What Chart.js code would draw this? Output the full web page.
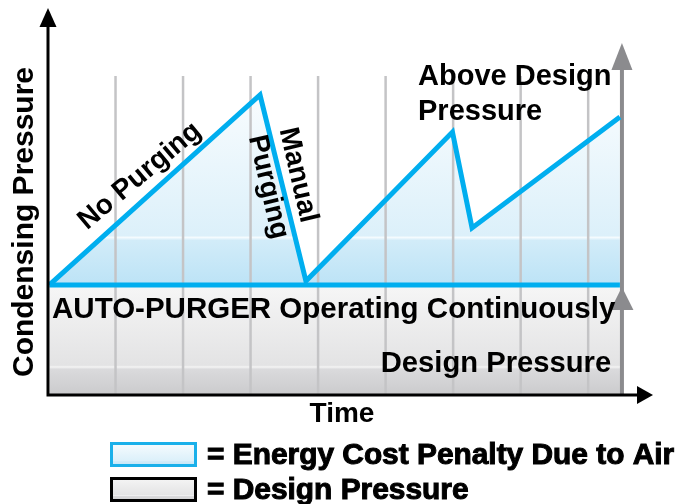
<!DOCTYPE html>
<html lang="en">
<head>
  <meta charset="UTF-8">
  <title>Condensing Pressure – Auto-Purger</title>
  <script src="https://cdn.jsdelivr.net/npm/chart.js"></script>
  <style>
    html, body { margin: 0; padding: 0; background: #fff; }
    #wrap { width: 686px; height: 504px; position: relative; }
  </style>
</head>
<body>
  <div id="wrap"><canvas id="purgeChart"></canvas></div>

  <script>
    // values (time units, pressure above design)
    const penaltyTime     = [0.02, 3.14, 3.82, 5.99, 6.28, 8.47];
    const penaltyPressure = [0,    1.90, 0.04, 1.53, 0.57, 1.68];
    const designTime      = [0.02, 8.5];
    const designPressure  = [0, 0];
    const gridTimes       = [1, 2, 3, 4, 5, 6, 7, 8];
    const gridTop         = 2.09;
    const pressureMin     = -1.1;
    const pressureMax     = 2.77;
    const timeMax         = 8.96;
    const limitTime       = 8.5;
    const limitArrowTop   = 2.42;

    const axisTitleX = 'Time';
    const axisTitleY = 'Condensing Pressure';
    const legendLabels = ['= Energy Cost Penalty Due to Air', '= Design Pressure'];

    const BLUE = '#00aeef';
    const FONT = '"Liberation Sans", Arial, Helvetica, sans-serif';

    const pts = (xs, ys) => xs.map((x, i) => ({ x: x, y: ys[i] }));

    // glossy gradients with the faint light band of the original
    function blueGradient(ctx, y0, y1) {
      const g = ctx.createLinearGradient(0, y0, 0, y1);
      g.addColorStop(0, '#f8fcfe');
      g.addColorStop(0.74, '#dcf0fa');
      g.addColorStop(0.75, '#f4fbfe');
      g.addColorStop(0.765, '#d2ecf9');
      g.addColorStop(1, '#bce3f6');
      return g;
    }
    function grayGradient(ctx, y0, y1) {
      const g = ctx.createLinearGradient(0, y0, 0, y1);
      g.addColorStop(0, '#f6f6f6');
      g.addColorStop(0.73, '#e3e3e4');
      g.addColorStop(0.745, '#f4f4f4');
      g.addColorStop(0.765, '#dadadc');
      g.addColorStop(1, '#cbcbcd');
      return g;
    }

    function blueFill(context) {
      const { ctx, chartArea, scales } = context.chart;
      if (!chartArea) return null;
      return blueGradient(ctx, scales.y.getPixelForValue(Math.max(...penaltyPressure)), scales.y.getPixelForValue(0));
    }
    function grayFill(context) {
      const { ctx, chartArea, scales } = context.chart;
      if (!chartArea) return null;
      return grayGradient(ctx, scales.y.getPixelForValue(0), scales.y.getPixelForValue(pressureMin));
    }

    function arrowHead(ctx, tipX, tipY, dir, len, half, color) {
      ctx.save();
      ctx.fillStyle = color;
      ctx.beginPath();
      if (dir === 'up') {
        ctx.moveTo(tipX, tipY);
        ctx.lineTo(tipX - half, tipY + len);
        ctx.lineTo(tipX + half, tipY + len);
      } else {
        ctx.moveTo(tipX, tipY);
        ctx.lineTo(tipX - len, tipY - half);
        ctx.lineTo(tipX - len, tipY + half);
      }
      ctx.closePath();
      ctx.fill();
      ctx.restore();
    }

    // axes, arrows, labels and legend
    const overlay = {
      id: 'overlay',
      afterDatasetsDraw(chart) {
        const { ctx, chartArea, scales } = chart;
        const x = scales.x, y = scales.y;
        const x0 = x.getPixelForValue(0);
        const yB = y.getPixelForValue(pressureMin);

        // grey limit arrows
        const lx = x.getPixelForValue(limitTime);
        arrowHead(ctx, lx, y.getPixelForValue(0) + 2, 'up', 23, 11.5, '#8b8b8e');
        arrowHead(ctx, lx, y.getPixelForValue(limitArrowTop), 'up', 27, 10.5, '#8b8b8e');

        // black axes
        ctx.save();
        ctx.strokeStyle = '#000';
        ctx.lineWidth = 3;
        ctx.beginPath();
        ctx.moveTo(x0, yB + 1.5);
        ctx.lineTo(x0, chartArea.top + 18);
        ctx.moveTo(x0 - 1.5, yB);
        ctx.lineTo(chartArea.right - 15, yB);
        ctx.stroke();
        ctx.restore();
        arrowHead(ctx, x0, chartArea.top, 'up', 19, 8.5, '#000');
        arrowHead(ctx, chartArea.right, yB, 'right', 16, 9, '#000');
      },
      afterDraw(chart) {
        const { ctx, chartArea, scales } = chart;
        const x = scales.x, y = scales.y;

        const notes = [
          { text: 'No Purging', t: 1.36, p: 1.09, rot: -40, align: 'center', base: 'middle', size: 28 },
          { text: 'Manual', t: 3.70, p: 1.10, rot: 77, align: 'center', base: 'middle', size: 28 },
          { text: 'Purging', t: 3.26, p: 0.98, rot: 77, align: 'center', base: 'middle', size: 28 },
          { text: 'Above Design', t: 5.48, p: 2.00, rot: 0, align: 'left', base: 'alphabetic', size: 29 },
          { text: 'Pressure', t: 5.48, p: 1.65, rot: 0, align: 'left', base: 'alphabetic', size: 29 },
          { text: 'AUTO-PURGER Operating Continuously', t: 0.06, p: -0.33, rot: 0, align: 'left', base: 'alphabetic', size: 29.5 },
          { text: 'Design Pressure', t: 8.34, p: -0.87, rot: 0, align: 'right', base: 'alphabetic', size: 29.2 }
        ];

        ctx.save();
        ctx.fillStyle = '#000';
        notes.forEach(n => {
          ctx.save();
          ctx.translate(x.getPixelForValue(n.t), y.getPixelForValue(n.p));
          ctx.rotate(n.rot * Math.PI / 180);
          ctx.font = 'bold ' + n.size + 'px ' + FONT;
          ctx.textAlign = n.align;
          ctx.textBaseline = n.base;
          ctx.fillText(n.text, 0, 0);
          ctx.restore();
        });

        // axis titles
        ctx.font = 'bold 28px ' + FONT;
        ctx.textAlign = 'center';
        ctx.textBaseline = 'alphabetic';
        ctx.fillText(axisTitleX, 342, chartArea.bottom + 27);
        ctx.save();
        ctx.translate(33, 222);
        ctx.rotate(-Math.PI / 2);
        ctx.font = 'bold 30px ' + FONT;
        ctx.fillText(axisTitleY, 0, 0);
        ctx.restore();

        // legend
        const boxes = [
          { y: 442, fill: blueGradient(ctx, 442, 467), stroke: '#1ab0ea' },
          { y: 477, fill: grayGradient(ctx, 477, 502), stroke: '#000' }
        ];
        boxes.forEach((b, i) => {
          ctx.fillStyle = b.fill;
          ctx.fillRect(110, b.y, 87, 25);
          ctx.strokeStyle = b.stroke;
          ctx.lineWidth = 3;
          ctx.strokeRect(111.5, b.y + 1.5, 84, 22);
          ctx.fillStyle = '#000';
          ctx.strokeStyle = '#000';
          ctx.lineWidth = 1;
          ctx.font = 'bold 29px ' + FONT;
          ctx.textAlign = 'left';
          ctx.save();
          ctx.translate(207, b.y + 22);
          ctx.scale(1.03, 1);
          ctx.fillText(legendLabels[i], 0, 0);
          ctx.strokeText(legendLabels[i], 0, 0);
          ctx.restore();
        });
        ctx.restore();
      }
    };

    const ctx = document.getElementById('purgeChart').getContext('2d');
    new Chart(ctx, {
      type: 'line',
      data: {
        datasets: [
          {
            label: 'penalty area',
            data: pts(penaltyTime, penaltyPressure),
            fill: { value: 0 },
            backgroundColor: blueFill,
            borderColor: 'rgba(0,0,0,0)',
            borderWidth: 0,
            order: 10
          },
          {
            label: 'design area',
            data: pts(designTime, designPressure),
            fill: { value: pressureMin },
            backgroundColor: grayFill,
            borderColor: 'rgba(0,0,0,0)',
            borderWidth: 0,
            order: 10
          },
          ...gridTimes.map(t => ({
            label: 'grid ' + t,
            data: [{ x: t, y: pressureMin }, { x: t, y: gridTop }],
            borderColor: '#c4c4c6',
            borderWidth: 2.5,
            fill: false,
            order: 5
          })),
          {
            label: 'limit',
            data: [{ x: limitTime, y: pressureMin }, { x: limitTime, y: limitArrowTop - 0.2 }],
            borderColor: '#8b8b8e',
            borderWidth: 4,
            fill: false,
            order: 4
          },
          {
            label: 'design pressure',
            data: pts([designTime[0], penaltyTime[penaltyTime.length - 1]], designPressure),
            borderColor: BLUE,
            borderWidth: 5,
            fill: false,
            order: 1
          },
          {
            label: 'condensing pressure',
            data: pts(penaltyTime, penaltyPressure),
            borderColor: BLUE,
            borderWidth: 5,
            borderJoinStyle: 'miter',
            fill: false,
            order: 1
          }
        ]
      },
      options: {
        responsive: true,
        maintainAspectRatio: false,
        animation: false,
        events: [],
        elements: { point: { radius: 0 }, line: { tension: 0 } },
        layout: { padding: { left: 48, right: 33, top: 8, bottom: 109 } },
        scales: {
          x: { type: 'linear', min: 0, max: timeMax, display: false },
          y: { type: 'linear', min: pressureMin, max: pressureMax, display: false }
        },
        plugins: {
          legend: { display: false },
          tooltip: { enabled: false }
        }
      },
      plugins: [overlay]
    });
  </script>
</body>
</html>
